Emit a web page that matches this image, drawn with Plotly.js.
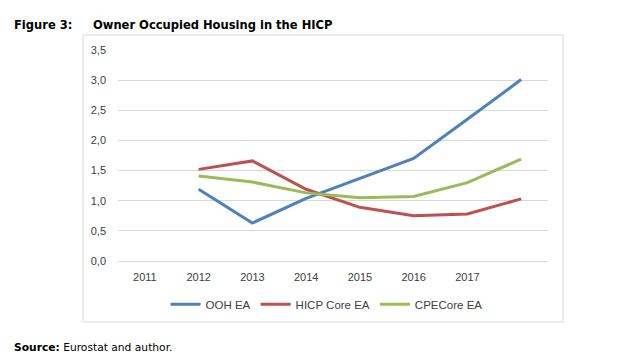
<!DOCTYPE html>
<html><head><meta charset="utf-8">
<script src="https://cdn.plot.ly/plotly-3.0.1.min.js"></script>
<style>html,body{margin:0;padding:0;background:#fff}#chart{width:617px;height:361px}</style>
</head><body><div id="chart"></div>
<script>
const years = [2011, 2012, 2013, 2014, 2015, 2016, 2017, 2018];
const tickYears = [2011, 2012, 2013, 2014, 2015, 2016, 2017];
const yTicks = [0, 0.5, 1, 1.5, 2, 2.5, 3, 3.5];
const yTickText = ['0,0', '0,5', '1,0', '1,5', '2,0', '2,5', '3,0', '3,5'];
const oohEA = [null, 1.19, 0.63, 1.04, 1.37, 1.70, 2.35, 3.01];
const hicpCoreEA = [null, 1.52, 1.66, 1.19, 0.89, 0.75, 0.78, 1.03];
const cpeCoreEA = [null, 1.41, 1.31, 1.13, 1.05, 1.07, 1.30, 1.69];

const mk = (name, y, color) => ({
  x: years, y: y, name: name, type: 'scatter', mode: 'lines',
  line: {color: color, width: 3}, connectgaps: false, hoverinfo: 'skip'
});
const data = [
  mk('OOH EA', oohEA, '#4F81BD'),
  mk('HICP Core EA', hicpCoreEA, '#C0504D'),
  mk('CPECore EA', cpeCoreEA, '#9BBB59')
];
const titleFont = {family: 'DejaVu Sans Condensed, DejaVu Sans, sans-serif', size: 12.8, color: '#000'};
const layout = {
  width: 617, height: 361,
  margin: {l: 118, r: 69, t: 50, b: 100},
  paper_bgcolor: '#fff', plot_bgcolor: '#fff',
  showlegend: true,
  font: {family: 'Liberation Sans, Arial, sans-serif', color: '#595959', size: 11},
  xaxis: {
    range: [2010.5, 2018.5], tickvals: tickYears, ticktext: tickYears.map(String),
    showgrid: false, zeroline: false, showline: false, ticks: '',
    ticklabelstandoff: 8,
    tickfont: {size: 11, color: '#404040'}, fixedrange: true
  },
  yaxis: {
    range: [0, 3.5], tickvals: yTicks, ticktext: yTickText,
    showgrid: true, gridcolor: '#D9D9D9', gridwidth: 1,
    zeroline: true, zerolinecolor: '#D9D9D9', zerolinewidth: 1,
    showline: false, ticks: '', ticklabelstandoff: 11,
    tickfont: {size: 11, color: '#404040'}, fixedrange: true
  },
  legend: {
    orientation: 'h', x: 0.485, xanchor: 'center', y: -0.205, yanchor: 'middle',
    font: {size: 11.5, color: '#404040'}, itemwidth: 30, tracegroupgap: 0
  },
  shapes: [{
    type: 'rect', xref: 'paper', yref: 'paper',
    x0: (83 - 118) / 430, x1: (563 - 118) / 430,
    y0: (261 - 322) / 211, y1: (261 - 35) / 211,
    line: {color: '#D9D9D9', width: 1}, fillcolor: 'rgba(0,0,0,0)', layer: 'below'
  }],
  annotations: [
    {text: '<b>Figure 3:</b>', xref: 'paper', yref: 'paper', x: (12 - 118) / 430, y: (261 - 24.5) / 211,
     xanchor: 'left', yanchor: 'middle', showarrow: false, font: titleFont},
    {text: '<b>Owner Occupied Housing in the HICP</b>', xref: 'paper', yref: 'paper', x: (91 - 118) / 430, y: (261 - 24.5) / 211,
     xanchor: 'left', yanchor: 'middle', showarrow: false, font: titleFont},
    {text: '<b>Source:</b> Eurostat and author.', xref: 'paper', yref: 'paper', x: (12 - 118) / 430, y: (261 - 347) / 211,
     xanchor: 'left', yanchor: 'middle', showarrow: false,
     font: {family: 'DejaVu Sans, Verdana, sans-serif', size: 10.7, color: '#000'}}
  ]
};
Plotly.newPlot('chart', data, layout, {displayModeBar: false, staticPlot: true});
</script></body></html>
